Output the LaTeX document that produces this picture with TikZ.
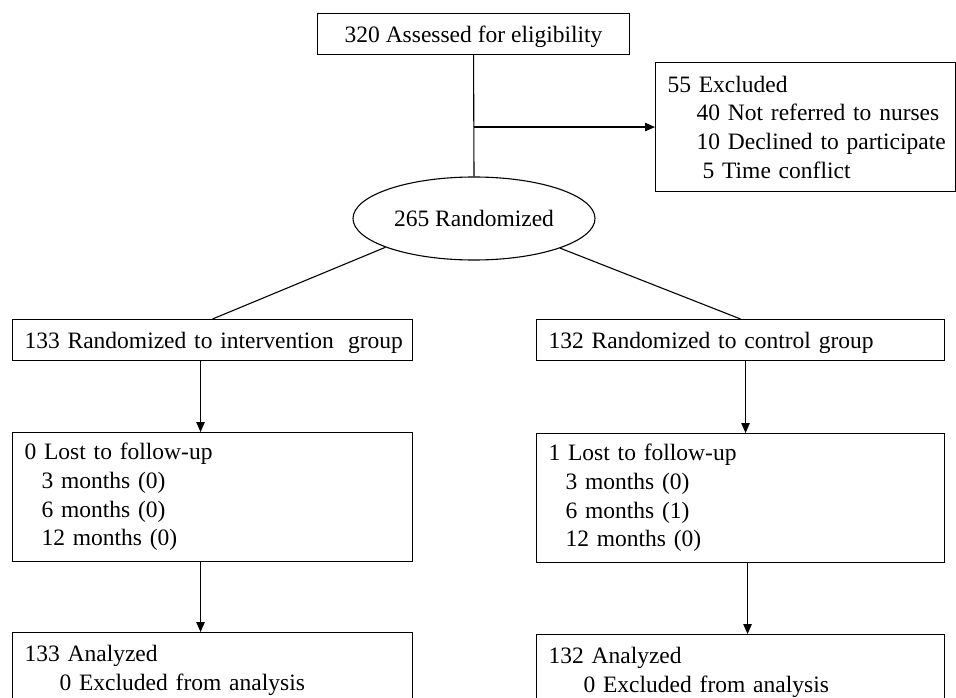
\documentclass[tikz,border=0pt]{standalone}
\usepackage{fontspec}
\setmainfont{Liberation Serif}
\usetikzlibrary{shapes.geometric,arrows.meta}
\begin{document}
\begin{tikzpicture}[x=1pt,y=-1pt,
  every node/.style={font=\fontsize{23.5}{28.7}\selectfont},
  boxl/.style={draw,line width=1.1pt,rectangle,inner xsep=12pt,inner ysep=0pt,align=left,anchor=north west},
  boxc/.style={draw,line width=1.1pt,rectangle,inner sep=0pt,align=center,anchor=north west},
  oneline/.style={text height=19pt,text depth=2pt},
  ell/.style={draw,line width=1.1pt,ellipse,inner sep=0pt,minimum width=242pt,minimum height=83pt},
  conn/.style={line width=1.1pt},
  arr/.style={line width=1.1pt,-{Triangle[length=10pt,width=8.5pt]}}]
\useasboundingbox (0,0) rectangle (956,698);
\clip (0,0) rectangle (956,698);
\fill[white] (0,0) rectangle (956,698);

\node[boxc,oneline,minimum width=312pt,minimum height=41pt] (top) at (317,13) {320 Assessed for eligibility};
\node[boxl,text width=276pt,minimum height=129pt] (excl) at (655,62)
  {\mbox{55 Excluded}\\
   \mbox{\hspace*{29pt}40 Not referred to nurses}\\
   \mbox{\hspace*{29pt}10 Declined to participate}\\
   \mbox{\hspace*{35pt}5 Time conflict}};
\node[ell] (ran) at (474,218.5) {265 Randomized};

\node[boxl,oneline,text width=376pt,minimum height=41pt] (int) at (12,319) {\mbox{133 Randomized to intervention\hspace{0.6em}group}};
\node[boxl,oneline,text width=384pt,minimum height=41pt] (ctl) at (536,319) {\mbox{132 Randomized to control group}};

\node[boxl,text width=376pt,minimum height=129pt] (lostl) at (12,432)
  {\mbox{0 Lost to follow-up}\\
   \mbox{\hspace*{17pt}3 months (0)}\\
   \mbox{\hspace*{17pt}6 months (0)}\\
   \mbox{\hspace*{17pt}12 months (0)}};
\node[boxl,text width=384pt,minimum height=129pt] (lostr) at (536,433)
  {\mbox{1 Lost to follow-up}\\
   \mbox{\hspace*{17pt}3 months (0)}\\
   \mbox{\hspace*{17pt}6 months (1)}\\
   \mbox{\hspace*{17pt}12 months (0)}};

\node[boxl,text width=376pt,minimum height=76pt] (anal) at (12,632)
  {\mbox{133 Analyzed}\\
   \mbox{\hspace*{35pt}0 Excluded from analysis}};
\node[boxl,text width=384pt,minimum height=76pt] (anar) at (536,634)
  {\mbox{132 Analyzed}\\
   \mbox{\hspace*{35pt}0 Excluded from analysis}};

\coordinate (br) at (top.south |- excl.west);
\draw[conn] (top.south) -- (ran.north);
\draw[arr] (br) -- (excl.west);
\draw[conn] (ran.198.7) -- (int.north);
\draw[conn] (ran.341.3) -- (ctl.north);
\draw[arr] ([xshift=-12pt]int.south) -- ([xshift=-12pt]lostl.north);
\draw[arr] ([xshift=-12pt]lostl.south) -- ([xshift=-12pt]anal.north);
\draw[arr] ([xshift=5pt]ctl.south) -- ([xshift=5pt]lostr.north);
\draw[arr] ([xshift=7pt]lostr.south) -- ([xshift=7pt]anar.north);
\end{tikzpicture}
\end{document}
